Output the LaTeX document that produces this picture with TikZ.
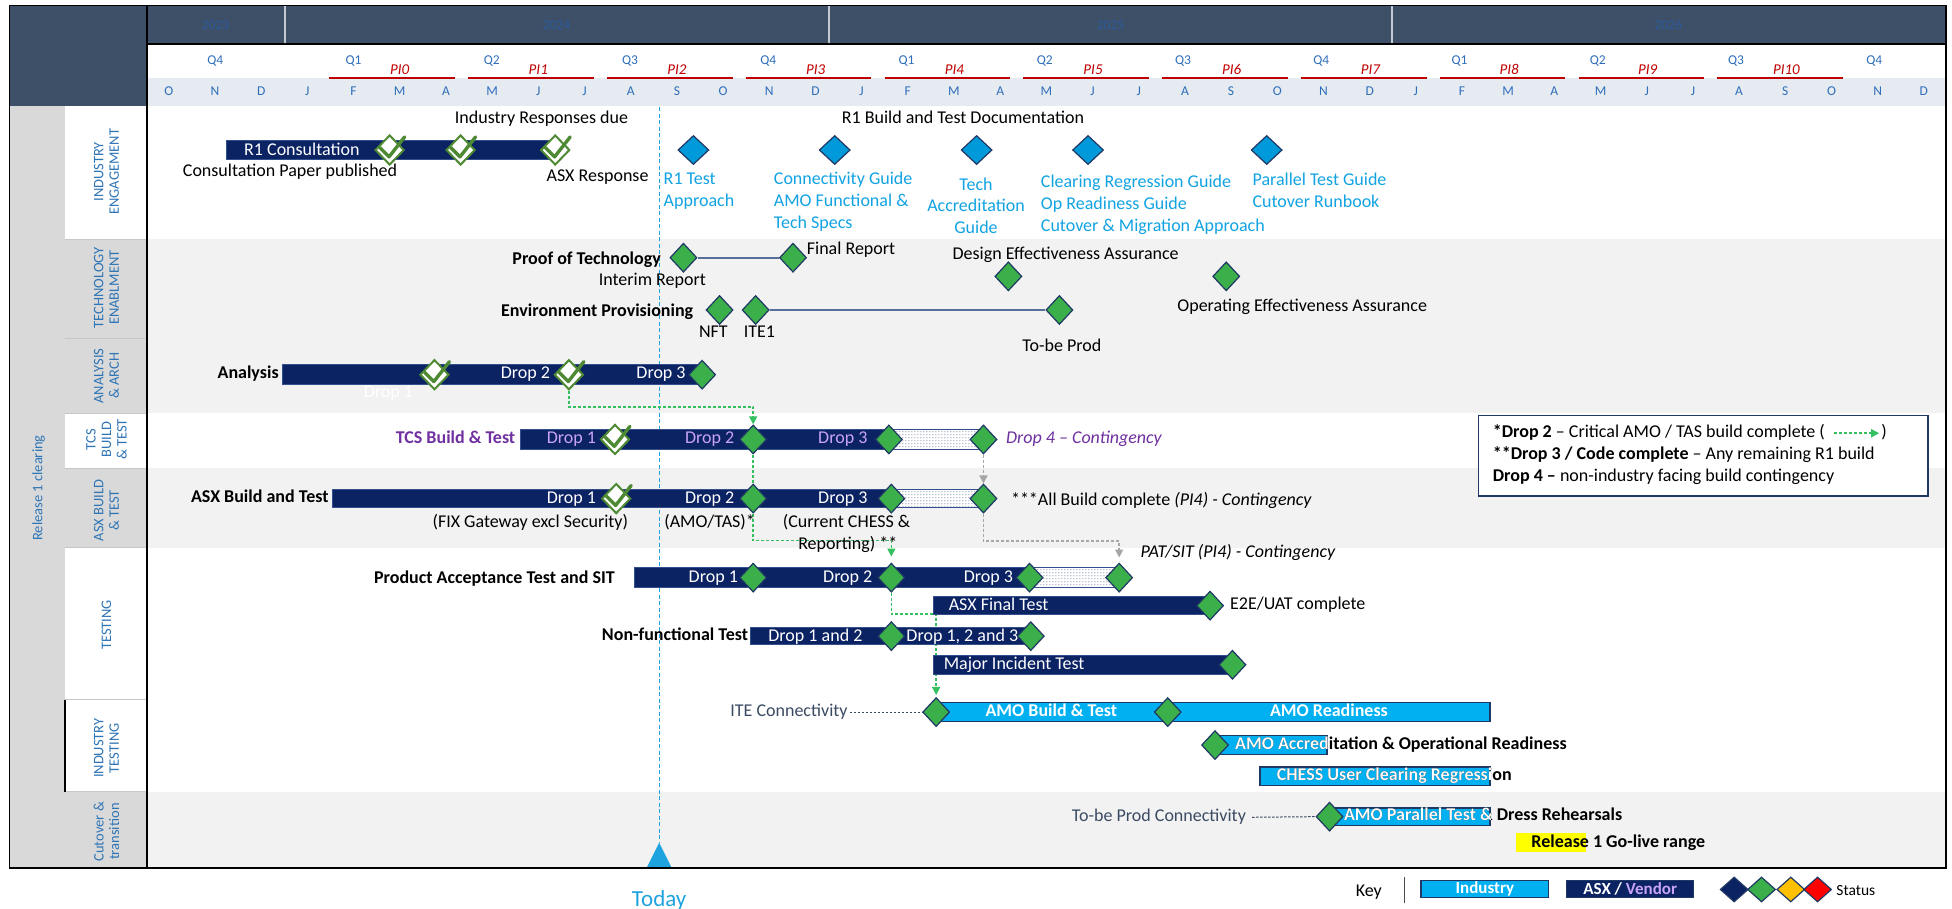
\documentclass[tikz,border=0pt]{standalone}
\usepackage{fontspec}
\setmainfont{Carlito}
\usepackage{xcolor}
\usepackage{tikz}
\usetikzlibrary{arrows.meta,positioning,shapes.geometric,calc,patterns}
\definecolor{slate}{HTML}{3E5068}
\definecolor{yrtxt}{HTML}{2B5A9E}
\definecolor{hdrblue}{HTML}{2F6EBA}
\definecolor{monthbg}{HTML}{E5EBF1}
\definecolor{pired}{HTML}{C00000}
\definecolor{lblgrey}{HTML}{D9D9D9}
\definecolor{bandgrey}{HTML}{F2F2F2}
\definecolor{secblue}{HTML}{2E75B6}
\definecolor{navy}{HTML}{0B2263}
\definecolor{navybd}{HTML}{34508C}
\definecolor{edge}{HTML}{1F3864}
\definecolor{sky}{HTML}{00B0F0}
\definecolor{docblue}{HTML}{0099DA}
\definecolor{doctxt}{HTML}{12A3E3}
\definecolor{msgreen}{HTML}{3BAF4A}
\definecolor{chkgreen}{HTML}{4E8A33}
\definecolor{linkgreen}{HTML}{35C060}
\definecolor{linkgrey}{HTML}{A6A6A6}
\definecolor{purp}{HTML}{7030A0}
\definecolor{lilac}{HTML}{C9A3F7}
\definecolor{dkslate}{HTML}{3A4A63}
\definecolor{tline}{HTML}{56709A}
\definecolor{todayblue}{HTML}{1FA3DF}
\definecolor{amber}{HTML}{FFC000}
\definecolor{hlyellow}{HTML}{FFFF00}
\pgfdeclarelayer{bands}
\pgfdeclarelayer{links}
\pgfsetlayers{bands,links,main}
\tikzset{
  lbl/.style={font=\fontsize{18}{21.8}\selectfont,inner sep=0pt},
  txt/.style={lbl,text height=12pt,text depth=3.5pt},
  btxt/.style={txt,font=\fontsize{18}{21.8}\selectfont\bfseries},
  itxt/.style={txt,font=\fontsize{18}{21.8}\selectfont\itshape},
  wtxt/.style={txt,text=white},
  doclbl/.style={lbl,text=doctxt,align=left,anchor=north west},
  seclbl/.style={font=\fontsize{14.5}{15.5}\selectfont,text=secblue,align=center,
                 inner sep=0pt,rotate=90},
  hdr/.style={inner sep=0pt,font=\fontsize{13.5}{15}\selectfont,text=hdrblue},
  pilbl/.style={inner sep=0pt,font=\fontsize{15}{17}\selectfont\itshape,text=pired},
  yrlbl/.style={inner sep=0pt,font=\fontsize{13.5}{15}\selectfont,text=yrtxt},
  bar/.style={fill=navy,draw=navybd,line width=1pt},
  indbar/.style={fill=sky,draw=edge,line width=1.4pt},
  slack/.style={draw=navybd,line width=1pt,preaction={fill=white},
                pattern=dots,pattern color=navy!75},
  ms/.style={diamond,draw=edge,line width=1.2pt,fill=msgreen,inner sep=0pt,
             minimum width=27pt,minimum height=29pt},
  docms/.style={ms,fill=docblue,minimum width=31pt},
  chk/.style={ms,fill=white,draw=chkgreen,line width=2pt,
              minimum width=29pt,minimum height=30pt},
  chkmark/.style={chkgreen,line width=3.4pt,line cap=round,line join=round},
  keyms/.style={ms,minimum width=28pt,minimum height=25pt},
  keybox/.style={draw=edge,line width=1.4pt,inner sep=0pt,minimum height=16.8pt,
                 font=\fontsize{17}{19}\selectfont\bfseries,text=white},
  glink/.style={linkgreen,line width=1.5pt,dash pattern=on 3pt off 2pt},
  grlink/.style={linkgrey,line width=1.5pt,dash pattern=on 3pt off 2pt},
  conn/.style={dkslate,line width=1pt,dash pattern=on 2.5pt off 1.5pt},
  techline/.style={tline,line width=2.2pt},
  headtip/.style={-{Triangle[length=8pt,width=8pt]}},
}
\begin{document}
\begin{tikzpicture}[x=1.245pt,y=-1.245pt]
  % one unit = one pixel of the 1568 px preview, y runs downwards
  \useasboundingbox (0,0) rectangle (1568,730);

  \begin{pgfonlayer}{bands}
    % row bands
    \foreach \ya/\yb/\c in {85/192/white,192/332/bandgrey,332/376/white,
        376/440/bandgrey,440/636/white,636/697/bandgrey}
      \fill[\c] (118,\ya) rectangle (1563,\yb);
    % label column
    \fill[lblgrey] (7.5,85) rectangle (52,697);
    \foreach \ya/\yb/\c in {85/192/white,192/332/lblgrey,332/376/white,
        376/440/lblgrey,440/636/white,636/697/lblgrey}
      \fill[\c] (52,\ya) rectangle (118,\yb);
    \foreach \y in {192,272,332,376,440,562,636}
      \draw[black!22,line width=0.8pt] (52,\y) -- (118,\y);
    % header
    \fill[slate] (7.5,4.5) rectangle (1563,35);
    \fill[slate] (7.5,4.5) rectangle (118,85);
    \fill[monthbg] (118,63) rectangle (1563,85);
    \foreach \x in {229,666,1118}
      \draw[white!70!slate,line width=1.5pt] (\x,5) -- (\x,35);
  \end{pgfonlayer}

  % Timeline header
  \foreach \x/\yr in {173/2023,447/2024,892/2025,1340/2026}
    \node[yrlbl] (yr\yr) at (\x,20) {\yr};
  \foreach \q [count=\k from 0] in {Q4,Q1,Q2,Q3,Q4,Q1,Q2,Q3,Q4,Q1,Q2,Q3,Q4}
    \node[hdr] (q\k) at ({173+111.05*\k},49) {\q};
  \foreach \k in {0,...,10}{
    \draw[pired,line width=2pt] ({264.5+111.5*\k},62.5) -- ({365.5+111.5*\k},62.5);
    \node[pilbl] (pi\k) at ({321+111.4*\k},56) {PI\k};
  }
  \foreach \m [count=\i from 0] in {O,N,D,J,F,M,A,M,J,J,A,S,O,N,D,J,F,M,A,M,J,J,A,S,
                                    O,N,D,J,F,M,A,M,J,J,A,S,O,N,D}
    \node[hdr] (mo\i) at ({135.6+37.1*\i},73.5) {\m};

  % Section labels
  \node[seclbl] (secrel) at (31,392) {Release 1 clearing};
  \foreach \y/\lbl/\n in {138/{INDUSTRY\\ENGAGEMENT}/ie,231/{TECHNOLOGY\\ENABLMENT}/te,
      302/{ANALYSIS\\\& ARCH}/aa,353/{TCS\\BUILD\\\& TEST}/tcs,
      410/{ASX BUILD\\\& TEST}/asx,502/{TESTING}/tst,601/{INDUSTRY\\TESTING}/it,
      668/{Cutover \&\\transition}/cut}
    \node[seclbl] (sec\n) at (85.5,\y) {\lbl};

  % Today marker
  \begin{pgfonlayer}{links}
    \coordinate (ttop) at (529.5,86);
    \coordinate (tbot) at (529.5,677);
    \draw[todayblue,line width=1.2pt,dash pattern=on 4pt off 2.5pt] (ttop) -- (tbot);
  \end{pgfonlayer}
  \fill[todayblue] (519.5,697) -- (539.5,697) -- (529.5,677) -- cycle;
  \node[lbl,font=\fontsize{23}{26}\selectfont,text=todayblue,anchor=base]
    (today) at (529.5,728.5) {Today};

  % ASX / vendor bars
  \foreach \xa/\xb/\ya/\yb in {182/446/113/128,227/564/293/309,418/790/345/361,
      267/790/393/408,510/899/456/472,750/972/479.5/493.5,603/828/504/518,
      750/990/526.5/541.5}
    \draw[bar] (\xa,\ya) rectangle (\xb,\yb);
  \foreach \xa/\xb/\ya/\yb in {714/790/345/361,716/790/393/408,827/899/456/472}
    \draw[slack] (\xa,\ya) rectangle (\xb,\yb);
  % industry bars
  \foreach \xa/\xb/\ya/\yb in {752/1197/564.5/579.5,976/1066/591/606,
      1012/1197/616/631,1068/1197/649/663}
    \draw[indbar] (\xa,\ya) rectangle (\xb,\yb);

  % Text inside bars
  \node[wtxt] (r1c) at (242.5,121.5) {R1 Consultation};
  \node[wtxt] (an1) at (312,315.5) {Drop 1};
  \node[wtxt] (an2) at (422,301) {Drop 2};
  \node[wtxt] (an3) at (531,301) {Drop 3};
  \foreach \n/\x in {1/459,2/570,3/677}{
    \node[txt,text=lilac] (tcsd\n) at (\x,353) {Drop \n};
    \node[wtxt] (asxd\n) at (\x,401) {Drop \n};
  }
  \foreach \n/\x in {1/573,2/681,3/794}
    \node[wtxt] (patd\n) at (\x,464.5) {Drop \n};
  \node[wtxt,anchor=west] (aft) at (762,487) {ASX Final Test};
  \node[wtxt] (nfd1) at (655,511.5) {Drop 1 and 2};
  \node[wtxt] (nfd2) at (773,511.5) {Drop 1, 2 and 3};
  \node[wtxt,anchor=west] (mit) at (758,534.5) {Major Incident Test};
  \node[btxt,text=white] (amob) at (844.5,572) {AMO Build \& Test};
  \node[btxt,text=white] (amor) at (1067.5,572) {AMO Readiness};
  % labels running past the end of their bar
  \foreach \n/\xa/\xb/\xt/\ya/\yb/\lbl in {
      acc/976/1066/992/591/606/{AMO Accreditation \& Operational Readiness},
      chess/1012/1197/1025.5/616/631/{CHESS User Clearing Regression},
      par/1068/1197/1079.5/649/663/{AMO Parallel Test \& Dress Rehearsals}}{
    \node[btxt,anchor=west] (\n-k) at (\xt,{(\ya+\yb)/2}) {\lbl};
    \begin{scope}
      \clip (\xa,\ya) rectangle (\xb,\yb);
      \node[btxt,anchor=west,text=white] (\n-w) at (\xt,{(\ya+\yb)/2}) {\lbl};
    \end{scope}
  }

  % Milestones
  \foreach \n/\x/\y in {ie1/313/120.5,ie2/370/120.5,ie3/446/120.5,an-c1/349/301,
      an-c2/457/301,tcs1/494/353,asx1/495/400.5}
    \node[chk] (\n) at (\x,\y) {};
  \foreach \n in {ie1,ie2,ie3,an-c1,an-c2,tcs1,asx1}
    \draw[chkmark] ($(\n)+(-8,-2)$) -- ($(\n)+(-0.5,5.5)$) -- ($(\n)+(12,-10.5)$);
  \foreach \n/\x in {d1/557,d2/670.5,d3/784.5,d4/874,d5/1017.5}
    \node[docms] (\n) at (\x,120.5) {};
  \foreach \n/\x/\y in {pot1/549/207,pot2/637/207,dea/810/222,oea/985/222,
      env1/578/249,env2/607/249,env3/851/249,an3m/564/301,
      tcs2/605/353,tcs3/714/353,tcs4/790/353,
      asx2/605/400.5,asx3/716/400.5,asx4/790/400.5,
      pat1/605/464,pat2/716/464,pat3/827/464,pat4/899/464,
      aftm/972/486.5,nf1/716/511,nf2/828/511,mitm/990/534,
      ite1/752/572,ite2/938/572,accm/976/598.5,parm/1068/656}
    \node[ms] (\n) at (\x,\y) {};

  % Industry engagement texts
  \node[txt] (irdue) at (435,95.5) {Industry Responses due};
  \node[txt] (cpp) at (233,138) {Consultation Paper published};
  \node[txt] (asxr) at (480,142) {ASX Response};
  \node[txt] (r1doc) at (773.5,95.5) {R1 Build and Test Documentation};
  \node[doclbl] (dl1) at (533,139) {R1 Test\\Approach};
  \node[doclbl] (dl2) at (621.5,138) {Connectivity Guide\\AMO Functional \&\\Tech Specs};
  \node[doclbl,align=center,anchor=north] (dl3) at (784,142.5) {Tech\\Accreditation\\Guide};
  \node[doclbl] (dl4) at (836,140.5) {Clearing Regression Guide\\Op Readiness Guide\\Cutover \& Migration Approach};
  \node[doclbl] (dl5) at (1006,139) {Parallel Test Guide\\Cutover Runbook};

  % Technology enablement texts
  \node[btxt,anchor=east] (potl) at (531,209) {Proof of Technology};
  \node[txt,anchor=west] (frep) at (648,201) {Final Report};
  \node[txt] (irep) at (524,226) {Interim Report};
  \node[txt] (deal) at (856,205) {Design Effectiveness Assurance};
  \node[txt] (oeal) at (1046,247) {Operating Effectiveness Assurance};
  \node[btxt,anchor=east] (envl) at (557,251) {Environment Provisioning};
  \node[txt] (nft) at (573,268) {NFT};
  \node[txt] (ite1l) at (610,268) {ITE1};
  \node[txt] (tbp) at (853,279) {To-be Prod};

  % Build and test texts
  \node[btxt,anchor=east] (anl) at (224,300.5) {Analysis};
  \node[btxt,anchor=east,text=purp] (tcsl) at (414,353) {TCS Build \& Test};
  \node[itxt,anchor=west,text=purp] (d4c) at (808,353) {Drop 4 – Contingency};
  \node[btxt,anchor=east] (asxl) at (264,400.5) {ASX Build and Test};
  \node[txt,anchor=west] (abc) at (812,403) {***All Build complete \textit{(PI4) - Contingency}};
  \node[txt] (fix) at (426,420) {(FIX Gateway excl Security)};
  \node[txt] (amotas) at (570,420) {(AMO/TAS)*};
  \node[txt] (cur1) at (680,420) {(Current CHESS \&};
  \node[txt] (cur2) at (681,438) {Reporting) **};

  % Testing texts
  \node[itxt,anchor=west] (patc) at (916,444.5) {PAT/SIT (PI4) - Contingency};
  \node[btxt,anchor=east] (patl) at (494,465) {Product Acceptance Test and SIT};
  \node[txt,anchor=west] (e2e) at (988,486.5) {E2E/UAT complete};
  \node[btxt,anchor=east] (nfl) at (601,511) {Non-functional Test};
  \node[txt,anchor=east,text=dkslate] (itec) at (681,572) {ITE Connectivity};
  \node[txt,anchor=east,text=dkslate] (tpc) at (1001,656.5) {To-be Prod Connectivity};
  \fill[hlyellow] (1218,669) rectangle (1274,684);
  \node[btxt,anchor=west] (golive) at (1230,677) {Release 1 Go-live range};

  % Footnote box
  \node[draw=edge,line width=1.6pt,fill=white,minimum width=449.5pt,
        minimum height=80.9pt,inner sep=0pt,anchor=north west] (note) at (1187,333) {};
  \node[txt,anchor=west] (nl1) at (1199,348)
    {\textbf{*Drop 2} – Critical AMO / TAS build complete (};
  \node[txt,anchor=west,right=56pt of nl1] (nl1e) {)};
  \node[txt,anchor=west] (nl2) at (1199,365.5)
    {\textbf{**Drop 3 / Code complete} – Any remaining R1 build};
  \node[txt,anchor=west] (nl3) at (1199,383)
    {\textbf{Drop 4 –} non-industry facing build contingency};
  \draw[glink,headtip] ([xshift=9pt]nl1.east) -- ([xshift=-2pt]nl1e.west);

  % Key
  \node[txt] (key) at (1099.5,717) {Key};
  \draw[black!70,line width=1pt] (1128,704.5) -- (1128,725);
  \node[keybox,fill=sky,minimum width=127.6pt] (kind) at (1192.75,714) {Industry};
  \node[keybox,fill=navy,minimum width=127pt] (kasx) at (1309.5,714)
    {ASX / \textcolor{lilac}{Vendor}};
  \foreach \n/\x/\c in {k1/1393/navy,k2/1415/msgreen,k3/1438.5/amber,k4/1460/red}
    \node[keyms,fill=\c] (\n) at (\x,714.5) {};
  \node[lbl,font=\fontsize{15.5}{17}\selectfont,anchor=west] (status) at (1475,715) {Status};

  % Connectors
  \begin{pgfonlayer}{links}
    \draw[techline] (pot1) -- (pot2);
    \draw[techline] (env2) -- (env3);
    \draw[glink,headtip] (an-c2.south) -- ++(0,13) -| (tcs2.north);
    \draw[glink] (tcs2.south) -- (asx2.north);
    \draw[glink,headtip,shorten >=6pt] (asx2.south) -- ++(0,21.5) -| (pat2.north);
    \draw[grlink,headtip] (tcs4.south) -- (asx4.north);
    \draw[grlink,headtip,shorten >=5pt] (asx4.south) -- ++(0,22) -| (pat4.north);
    \draw[glink,headtip,shorten >=2pt] (pat2.south) -- ++(0,17) -| (ite1.north);
    \draw[conn] ([xshift=2pt]itec.east) -- (ite1.west);
    \draw[conn] ([xshift=6pt]tpc.east) -- (parm.west);
  \end{pgfonlayer}

  % Frame
  \draw[black,line width=1.6pt] (7.5,4.5) rectangle (1563,697);
  \draw[black,line width=1.6pt] (118,4.5) -- (118,697);
  \draw[black,line width=2pt] (118,35) -- (1563,35);
  \draw[black,line width=1.6pt] (52,562) -- (52,636);
\end{tikzpicture}
\end{document}
